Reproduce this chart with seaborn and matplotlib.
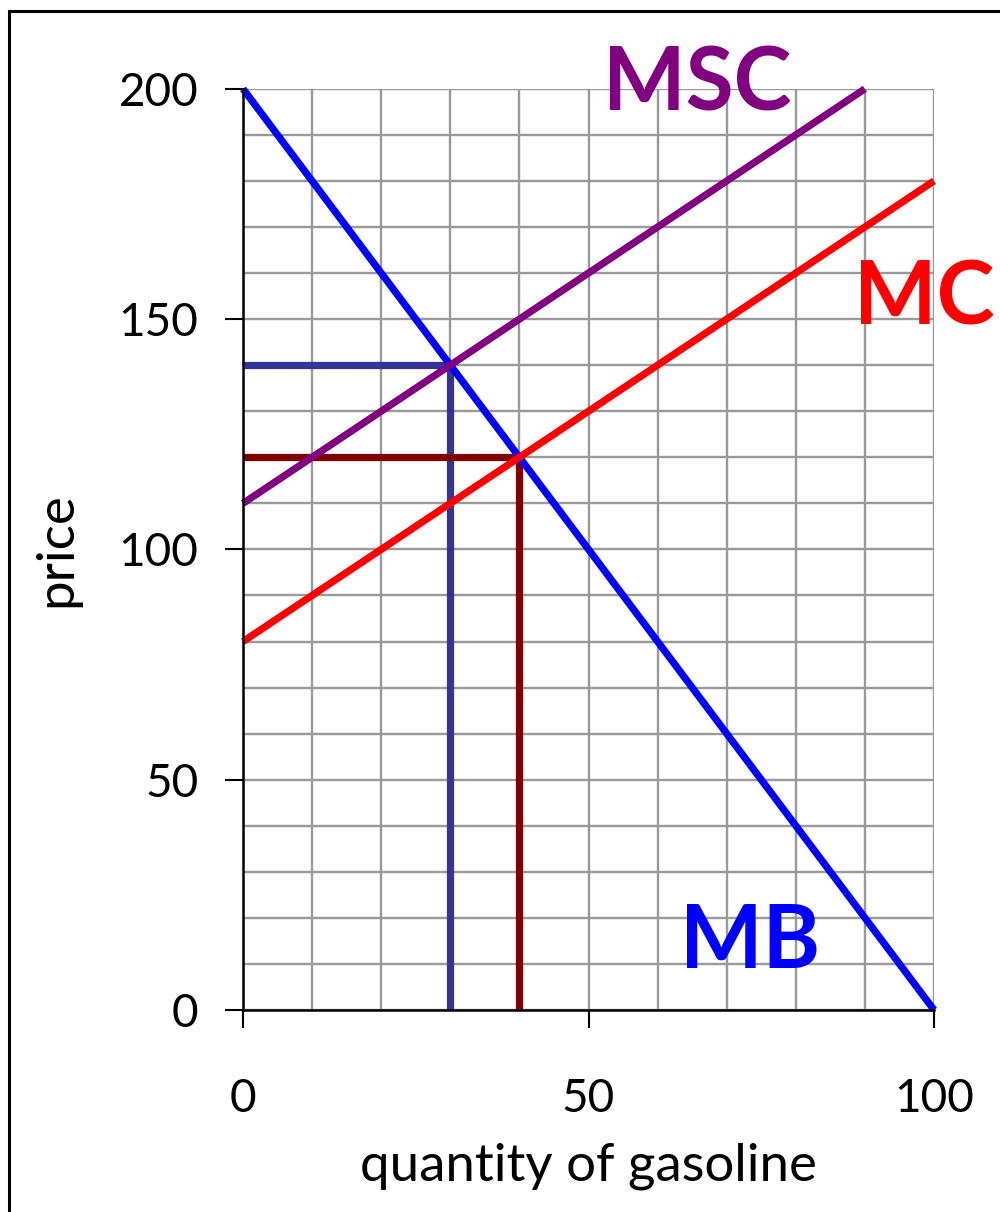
import matplotlib
matplotlib.use("Agg")
import matplotlib.pyplot as plt
from matplotlib.patches import Rectangle
from matplotlib.ticker import MultipleLocator
import seaborn as sns
import pandas as pd

# curve endpoints (quantity, price)
mb_q = [0, 100]
mb_p = [200, 0]
mc_q = [0, 100]
mc_p = [80, 180]
msc_q = [0, 90]
msc_p = [110, 200]

# equilibria
social_q, social_p = 30, 140
market_q, market_p = 40, 120

x_ticks = [0, 50, 100]
y_ticks = [0, 50, 100, 150, 200]

sns.set_style("white")
plt.rcParams['font.family'] = ['Lato', 'DejaVu Sans']
plt.rcParams.update({'text.color': 'black', 'axes.labelcolor': 'black',
                     'xtick.color': 'black', 'ytick.color': 'black'})

fig = plt.figure(figsize=(10, 12.12), dpi=100)
ax = fig.add_axes([0.243, 0.1667, 0.691, 0.76])

# outer frame
fig.patches.append(Rectangle((0.0085, -0.1), 1.2, 1.091, transform=fig.transFigure,
                             fill=False, edgecolor='black', linewidth=2.2))

ax.set_xlim(0, 100)
ax.set_ylim(0, 200)
ax.xaxis.set_minor_locator(MultipleLocator(10))
ax.yaxis.set_minor_locator(MultipleLocator(10))
ax.set_xticks(x_ticks)
ax.set_yticks(y_ticks)
ax.grid(True, which='both', color='#999999', linewidth=1.7, zorder=0)
ax.set_axisbelow(True)
ax.tick_params(axis='both', which='major', length=13, width=1.5, color='black',
               labelcolor='black', labelsize=33, direction='out', bottom=True, left=True)
ax.tick_params(axis='x', which='major', pad=36)
ax.tick_params(axis='y', which='major', pad=19)
ax.tick_params(which='minor', length=0)
for s in ['top', 'right']:
    ax.spines[s].set_visible(False)
for s in ['left', 'bottom']:
    ax.spines[s].set_color('black')
    ax.spines[s].set_linewidth(1.8)
    ax.spines[s].set_zorder(5)

# guide lines
guide_kw = dict(lw=5.2, zorder=2, solid_capstyle='butt')
ax.plot([0, social_q], [social_p, social_p], color='#333399', **guide_kw)
ax.plot([social_q, social_q], [0, social_p], color='#333399', **guide_kw)
ax.plot([0, market_q], [market_p, market_p], color='#800000', **guide_kw)
ax.plot([market_q, market_q], [0, market_p], color='#800000', **guide_kw)

curves = [(mb_q, mb_p, '#0000FF'), (mc_q, mc_p, '#FF0000'), (msc_q, msc_p, '#800080')]
for q, p, c in curves:
    df = pd.DataFrame({'q': q, 'p': p})
    sns.lineplot(data=df, x='q', y='p', color=c, linewidth=5.2, ax=ax, zorder=3,
                 clip_on=False, solid_capstyle='butt')

ax.text(65.7, 195.4, 'MSC', color='#800080', fontsize=63, fontweight='bold',
        ha='center', va='baseline', zorder=4, clip_on=False)
ax.text(98.6, 148.8, 'MC', color='#FF0000', fontsize=63, fontweight='bold',
        ha='center', va='baseline', zorder=4, clip_on=False)
ax.text(73.4, 9.1, 'MB', color='#0000FF', fontsize=63, fontweight='bold',
        ha='center', va='baseline', zorder=4, clip_on=False)

ax.set_xlabel('quantity of gasoline', fontsize=38, labelpad=16, color='black')
ax.set_ylabel('price', fontsize=38, labelpad=28, color='black')

fig.savefig('out.png', dpi=100)
